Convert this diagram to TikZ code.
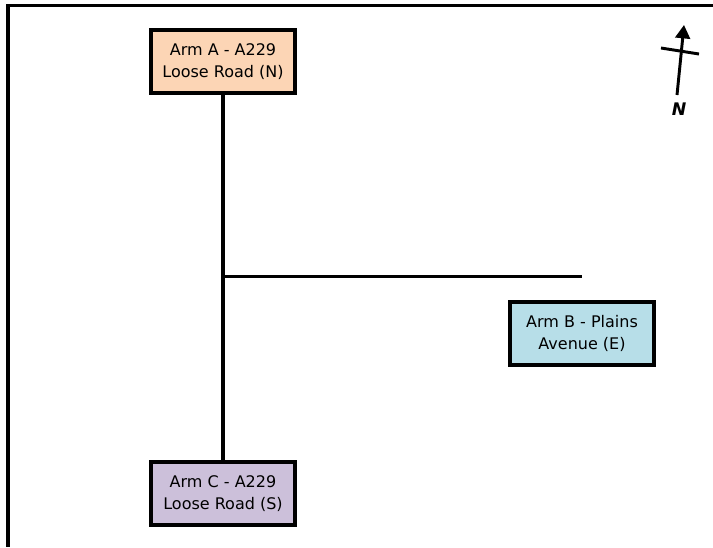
\documentclass[tikz,border=0pt]{standalone}
\usepackage{fontspec}
\setmainfont{DejaVu Sans}
\usetikzlibrary{arrows.meta, positioning, calc}
\definecolor{armNorte}{HTML}{FCD5B5}
\definecolor{armEste}{HTML}{B7DEE8}
\definecolor{armSur}{HTML}{CCC0DA}

\begin{document}
\begin{tikzpicture}[x=0.75pt, y=-0.75pt, >=Triangle,
        font=\fontsize{12}{16.3}\selectfont,
        arm/.style={draw=black, line width=3pt, align=center,
            minimum width=108pt, minimum height=47pt, inner sep=0pt},
        road/.style={line width=2.3pt},
        frame/.style={line width=2.7pt}]
    \useasboundingbox (0,0) rectangle (713,547);
    \draw[frame] (713,5.5) -| (8,547);
    % arms
    \node[arm, fill=armNorte] (armA) at (223,61.5) {Arm A - A229\\Loose Road (N)};
    \node[arm, fill=armEste] (armB) at (582,333.5) {Arm B - Plains\\Avenue (E)};
    \node[arm, fill=armSur] (armC) at (223,493.5) {Arm C - A229\\Loose Road (S)};
    \coordinate (jn) at (223,276.5);
    \coordinate (bEnd) at (armB.center |- jn);
    \draw[road] (armA) -- (armC);
    \draw[road] (jn) -- (bEnd);
    % north arrow
    \node[font=\fontsize{13}{15}\selectfont\bfseries\itshape] (nord) at (679,109) {N};
    \coordinate (nBase) at (677,95);
    \coordinate (nTip) at (684,25);
    \draw[line width=2.2pt, -{Triangle[length=10pt, width=11pt]}] (nBase) -- (nTip);
    \draw[line width=2.2pt] (661,48) -- (699,54);
\end{tikzpicture}
\end{document}
